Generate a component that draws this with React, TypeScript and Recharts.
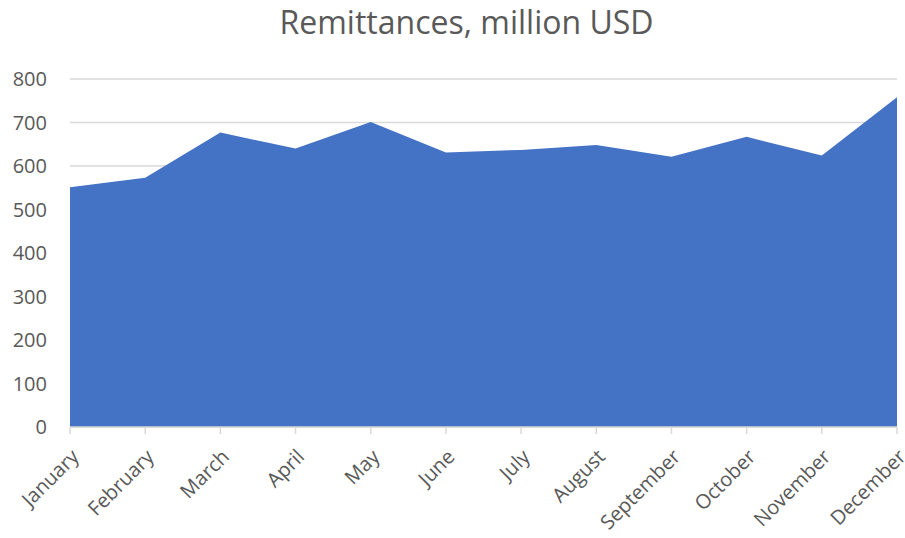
import { AreaChart, Area, XAxis, YAxis, CartesianGrid } from "recharts";

const months = [
  "January",
  "February",
  "March",
  "April",
  "May",
  "June",
  "July",
  "August",
  "September",
  "October",
  "November",
  "December",
];
const remittances = [551, 573, 677, 640, 701, 631, 637, 648, 621, 667, 624, 758];
const yTicks = [0, 100, 200, 300, 400, 500, 600, 700, 800];

const data = months.map((month, i) => ({ month, value: remittances[i] }));

const FONT = "'Open Sans', 'Liberation Sans', sans-serif";
const TEXT = "#595959";
const GRID = "#d9d9d9";

export default function App() {
  return (
    <div
      style={{
        position: "absolute",
        left: 0,
        top: 0,
        width: 905,
        height: 538,
        background: "#fff",
        fontFamily: FONT,
      }}
    >
      <div
        style={{
          position: "absolute",
          top: 0,
          left: 0,
          width: 933,
          textAlign: "center",
          fontSize: 32,
          lineHeight: "44px",
          color: TEXT,
        }}
      >
        Remittances, million USD
      </div>
      <AreaChart
        width={905}
        height={538}
        data={data}
        margin={{ top: 79, right: 8, left: 0, bottom: 0 }}
      >
        <CartesianGrid vertical={false} stroke={GRID} strokeWidth={1.5} />
        <XAxis
          dataKey="month"
          height={111}
          interval={0}
          axisLine={{ stroke: GRID, strokeWidth: 1.5 }}
          tickLine={{ stroke: GRID, strokeWidth: 1.5 }}
          tickSize={7}
          tickMargin={14}
          angle={-45}
          textAnchor="end"
          tick={{ fill: TEXT, fontSize: 20, fontFamily: FONT }}
        />
        <YAxis
          width={70}
          domain={[0, 800]}
          ticks={yTicks}
          axisLine={false}
          tickLine={false}
          tickSize={0}
          tickMargin={23}
          tick={{ fill: TEXT, fontSize: 20, fontFamily: FONT }}
        />
        <Area
          type="linear"
          dataKey="value"
          stroke="none"
          fill="#4472C4"
          fillOpacity={1}
          isAnimationActive={false}
        />
      </AreaChart>
    </div>
  );
}
